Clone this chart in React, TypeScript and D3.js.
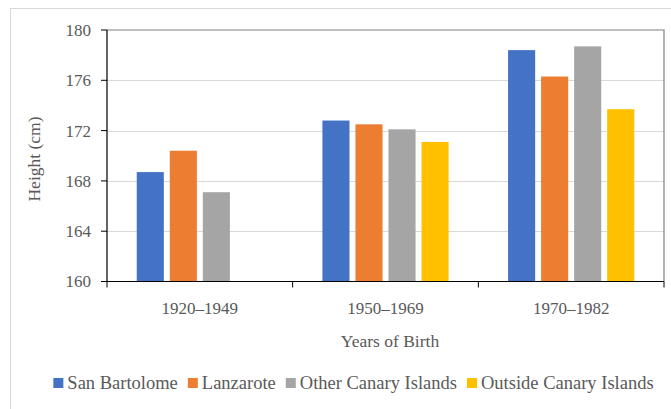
import { useEffect, useRef } from "react";
import * as d3 from "d3";

const categories = ["1920–1949", "1950–1969", "1970–1982"];
const seriesNames = [
  "San Bartolome",
  "Lanzarote",
  "Other Canary Islands",
  "Outside Canary Islands",
];
// one array per series, values by category (null = no bar)
const sanBartolome = [168.7, 172.8, 178.4];
const lanzarote = [170.4, 172.5, 176.3];
const otherCanary = [167.1, 172.1, 178.7];
const outsideCanary = [null, 171.1, 173.7];
const yTicks = [160, 164, 168, 172, 176, 180];
const colors = ["#4472C4", "#ED7D31", "#A5A5A5", "#FFC000"];

const W = 671,
  H = 409;
const FONT = "'Liberation Serif', serif";
const TEXT = "#595959";

const App = () => {
  const ref = useRef<SVGSVGElement>(null);

  useEffect(() => {
    const svg = d3.select(ref.current);
    svg.selectAll("*").remove();

    const left = 107,
      right = 664,
      top = 30,
      bottom = 281.5;

    // outer frame
    svg
      .append("rect")
      .attr("x", 10.5)
      .attr("y", 8.5)
      .attr("width", 700)
      .attr("height", 420)
      .attr("fill", "white")
      .attr("stroke", "#D9D9D9");

    const x0 = d3.scaleBand<string>().domain(categories).range([left, right]);
    const x1 = d3
      .scaleBand<string>()
      .domain(seriesNames)
      .range([0, x0.bandwidth()])
      .paddingInner(0.18)
      .paddingOuter(0.9);
    const y = d3.scaleLinear().domain([160, 180]).range([bottom, top]);

    // grid
    svg
      .append("g")
      .selectAll("line")
      .data(yTicks.filter((t) => t !== 160 && t !== 180))
      .enter()
      .append("line")
      .attr("x1", left)
      .attr("x2", right)
      .attr("y1", (d) => Math.round(y(d)) + 0.5)
      .attr("y2", (d) => Math.round(y(d)) + 0.5)
      .attr("stroke", "#D9D9D9")
      .attr("stroke-width", 1);

    // bars
    const allSeries = [sanBartolome, lanzarote, otherCanary, outsideCanary];
    allSeries.forEach((vals, si) => {
      svg
        .append("g")
        .selectAll("rect")
        .data(vals.map((v, ci) => ({ v, c: categories[ci] })).filter((d) => d.v != null))
        .enter()
        .append("rect")
        .attr("x", (d) => (x0(d.c) as number) + (x1(seriesNames[si]) as number))
        .attr("width", x1.bandwidth())
        .attr("y", (d) => y(d.v as number))
        .attr("height", (d) => bottom - y(d.v as number))
        .attr("fill", colors[si]);
    });

    // plot frame: top/right gray, left/bottom black
    svg
      .append("path")
      .attr("d", `M${left},${top}H${right}V${bottom}`)
      .attr("fill", "none")
      .attr("stroke", "#7F7F7F")
      .attr("stroke-width", 1.2);
    svg
      .append("path")
      .attr("d", `M${left},${top}V${bottom}H${right}`)
      .attr("fill", "none")
      .attr("stroke", "#000")
      .attr("stroke-width", 1.2);

    // y ticks
    const yg = svg.append("g");
    yTicks.forEach((t) => {
      yg.append("line")
        .attr("x1", left - 6)
        .attr("x2", left)
        .attr("y1", y(t))
        .attr("y2", y(t))
        .attr("stroke", "#000");
      yg.append("text")
        .attr("x", 91)
        .attr("y", y(t))
        .attr("dy", "0.35em")
        .attr("text-anchor", "end")
        .attr("fill", TEXT)
        .style("font-family", FONT)
        .style("font-size", "17px")
        .text(t);
    });

    // x ticks at category boundaries
    const bounds = [...categories.map((c) => x0(c) as number), right];
    bounds.forEach((b) => {
      svg
        .append("line")
        .attr("x1", b)
        .attr("x2", b)
        .attr("y1", bottom)
        .attr("y2", bottom + 6)
        .attr("stroke", "#000");
    });
    categories.forEach((c) => {
      svg
        .append("text")
        .attr("x", (x0(c) as number) + x0.bandwidth() / 2)
        .attr("y", 314)
        .attr("text-anchor", "middle")
        .attr("fill", TEXT)
        .style("font-family", FONT)
        .style("font-size", "17px")
        .text(c);
    });

    // axis titles
    svg
      .append("text")
      .attr("transform", "translate(40,159) rotate(-90)")
      .attr("text-anchor", "middle")
      .attr("fill", TEXT)
      .style("font-family", FONT)
      .style("font-size", "17.5px")
      .text("Height (cm)");
    svg
      .append("text")
      .attr("x", 390)
      .attr("y", 347)
      .attr("text-anchor", "middle")
      .attr("fill", TEXT)
      .style("font-family", FONT)
      .style("font-size", "17.5px")
      .text("Years of Birth");

    // legend
    const lg = svg.append("g");
    let cx = 0;
    seriesNames.forEach((name, i) => {
      lg.append("rect")
        .attr("x", cx)
        .attr("y", 378)
        .attr("width", 10)
        .attr("height", 10)
        .attr("fill", colors[i]);
      const t = lg
        .append("text")
        .attr("x", cx + 14)
        .attr("y", 389)
        .attr("fill", TEXT)
        .style("font-family", FONT)
        .style("font-size", "18.5px")
        .text(name);
      const w = (t.node() as SVGTextElement).getComputedTextLength();
      cx += 14 + w + (i < seriesNames.length - 1 ? 10 : 0);
    });
    lg.attr("transform", `translate(${353.5 - cx / 2},0)`);
  }, []);

  return (
    <svg
      ref={ref}
      width={W}
      height={H}
      style={{ position: "absolute", left: 0, top: 0, background: "white" }}
    />
  );
};

export default App;
